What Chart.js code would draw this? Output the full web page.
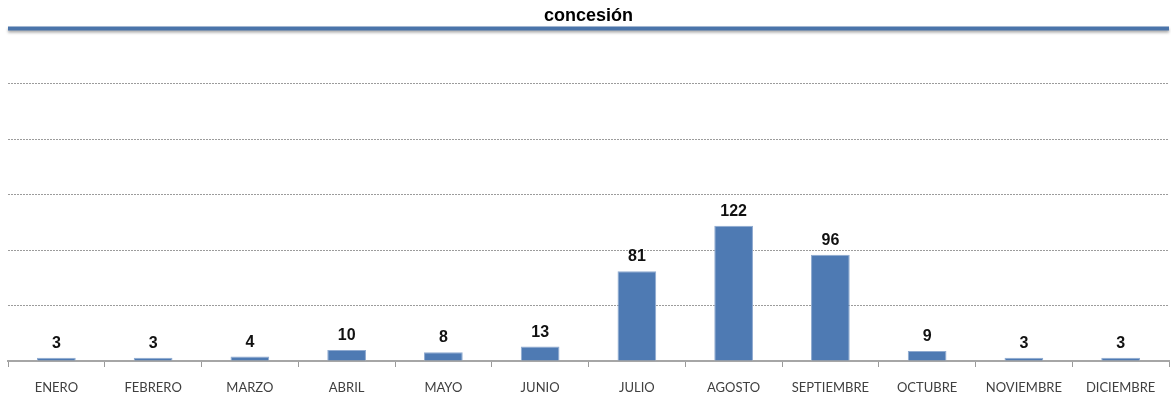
<!DOCTYPE html>
<html>
<head>
<meta charset="utf-8">
<script src="https://cdn.jsdelivr.net/npm/chart.js@4/dist/chart.umd.min.js"></script>
<style>
  html, body { margin: 0; padding: 0; background: #fff; }
  #wrap { width: 1171px; height: 398px; }
</style>
</head>
<body>
<div id="wrap"><canvas id="c" width="1171" height="398"></canvas></div>
<script>
const months = ['ENERO', 'FEBRERO', 'MARZO', 'ABRIL', 'MAYO', 'JUNIO', 'JULIO', 'AGOSTO', 'SEPTIEMBRE', 'OCTUBRE', 'NOVIEMBRE', 'DICIEMBRE'];
const concesiones = [3, 3, 4, 10, 8, 13, 81, 122, 96, 9, 3, 3];
const yMax = 300;
const yStep = 50;

// Bold value above each bar
const valueLabels = {
  id: 'valueLabels',
  afterDatasetsDraw(chart) {
    const ctx = chart.ctx;
    const meta = chart.getDatasetMeta(0);
    ctx.save();
    ctx.font = 'bold 16px "Liberation Sans", Arial, sans-serif';
    ctx.fillStyle = '#111';
    ctx.textAlign = 'center';
    ctx.textBaseline = 'alphabetic';
    meta.data.forEach((bar, i) => {
      ctx.fillText(String(chart.data.datasets[0].data[i]), bar.x, bar.y - 10);
    });
    ctx.restore();
  }
};

// Heavy blue rule along the top of the value range
const topRule = {
  id: 'topRule',
  afterDraw(chart) {
    const y = chart.scales.y.getPixelForValue(yMax);
    const { left, right } = chart.chartArea;
    const ctx = chart.ctx;
    ctx.save();
    ctx.shadowColor = 'rgba(0,0,0,0.35)';
    ctx.shadowBlur = 3;
    ctx.shadowOffsetY = 2;
    ctx.strokeStyle = '#4A74AA';
    ctx.lineWidth = 4;
    ctx.beginPath();
    ctx.moveTo(left, y);
    ctx.lineTo(right, y);
    ctx.stroke();
    ctx.restore();
  }
};

new Chart(document.getElementById('c'), {
  type: 'bar',
  data: {
    labels: months,
    datasets: [{
      data: concesiones,
      backgroundColor: '#4E7AB3',
      borderColor: '#8FAAD0',
      borderWidth: 1,
      barPercentage: 0.8,
      categoryPercentage: 0.5
    }]
  },
  options: {
    responsive: false,
    animation: false,
    layout: { padding: { left: 8, right: 2, bottom: 0, top: 0 } },
    plugins: {
      legend: { display: false },
      tooltip: { enabled: false },
      title: {
        display: true,
        text: 'concesión',
        color: '#000',
        font: { family: '"Liberation Sans", Arial, sans-serif', size: 18, weight: 'bold' },
        padding: { top: 5, bottom: 2 }
      }
    },
    scales: {
      x: {
        afterFit(scale) { scale.height = 37; },
        grid: {
          offset: true,
          drawOnChartArea: false,
          drawTicks: true,
          tickLength: 6,
          color: '#9A9A9A'
        },
        border: { display: true, color: '#A6A6A6', width: 2 },
        ticks: {
          color: '#404040',
          font: { family: 'Lato, "Open Sans", sans-serif', size: 13 },
          padding: 13,
          maxRotation: 0,
          autoSkip: false
        }
      },
      y: {
        min: 0,
        max: yMax,
        ticks: { display: false, stepSize: yStep },
        grid: {
          drawTicks: false,
          color: (c) => (c.tick && (c.tick.value === 0 || c.tick.value === yMax)) ? 'transparent' : '#9C9C9C',
          lineWidth: 1
        },
        border: { display: false, dash: [2, 1] }
      }
    }
  },
  plugins: [valueLabels, topRule]
});
</script>
</body>
</html>
